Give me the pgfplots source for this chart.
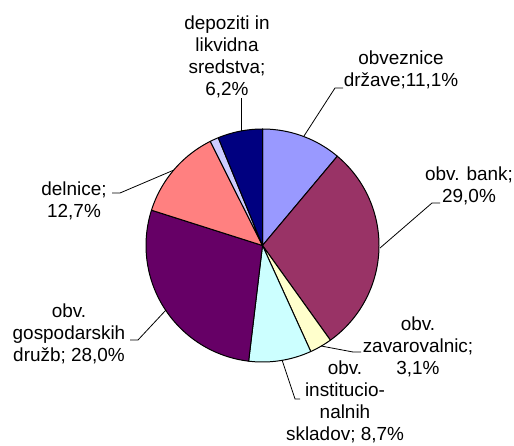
\documentclass[border=0pt]{standalone}
\usepackage{pgfplots}
\pgfplotsset{compat=1.18}
\usepackage{fontspec}
\setmainfont{Liberation Sans}
\definecolor{c1}{HTML}{9999FF}
\definecolor{c2}{HTML}{993366}
\definecolor{c3}{HTML}{FFFFCC}
\definecolor{c4}{HTML}{CCFFFF}
\definecolor{c5}{HTML}{660066}
\definecolor{c6}{HTML}{FF8080}
\definecolor{c7}{HTML}{CCCCFF}
\definecolor{c8}{HTML}{000080}
\def\cx{262.5}
\def\cy{200.5}
\def\rr{116.5}
\gdef\cum{0}
\newcommand\pieslice[2]{%
  \pgfmathsetmacro\pa{90-3.6*\cum}%
  \pgfmathsetmacro\pb{90-3.6*(\cum+#1)}%
  \edef\temp{\noexpand\addplot[fill=#2, draw=black, line width=1pt, line join=round, domain=\pb:\pa, samples=80] ({\cx+\rr*cos(x)},{\cy+\rr*sin(x)}) -- (axis cs:\cx,\cy) -- cycle;}%
  \temp
  \pgfmathsetmacro\newcum{\cum+#1}\xdef\cum{\newcum}%
}
\begin{document}
\begin{tikzpicture}
\path[use as bounding box] (0,0) rectangle (514bp,446bp);
\begin{axis}[at={(0,0)}, anchor=south west, width=514bp, height=446bp, scale only axis,
  xmin=0, xmax=514, ymin=0, ymax=446, hide axis, clip=false]
\pieslice{11.1}{c1}
\pieslice{29.0}{c2}
\pieslice{3.1}{c3}
\pieslice{8.7}{c4}
\pieslice{28.0}{c5}
\pieslice{12.7}{c6}
\pieslice{1.2}{c7}
\pieslice{6.2}{c8}
% leader lines
\addplot[black, line width=0.8pt] coordinates {(241,348) (241,315)};
\addplot[black, line width=0.8pt] coordinates {(343,358) (335,358) (304,310)};
\addplot[black, line width=0.8pt] coordinates {(380,198) (432,243) (440,243)};
\addplot[black, line width=0.8pt] coordinates {(321,100) (353,94) (361,94)};
\addplot[black, line width=0.8pt] coordinates {(282,86) (295,47) (300,47)};
\addplot[black, line width=0.8pt] coordinates {(166,136) (138,106) (130,106)};
\addplot[black, line width=0.8pt] coordinates {(174,276) (120,253) (112,253)};
% labels
\begin{scope}[every node/.style={align=center, font=\fontsize{19}{22}\selectfont, inner sep=0pt}]
\node at (axis cs:227,389.5) {depoziti in\\likvidna\\sredstva;\\6,2\%};
\node at (axis cs:401,376) {obveznice\\države;11,1\%};
\node at (axis cs:469,260) {obv. bank;\\29,0\%};
\node at (axis cs:418,99) {obv.\\zavarovalnic;\\3,1\%};
\node at (axis cs:345,44) {obv.\\institucio-\\nalnih\\skladov; 8,7\%};
\node at (axis cs:69,112) {obv.\\gospodarskih\\družb; 28,0\%};
\node at (axis cs:74,245) {delnice;\\12,7\%};
\end{scope}
\end{axis}
\end{tikzpicture}
\end{document}
